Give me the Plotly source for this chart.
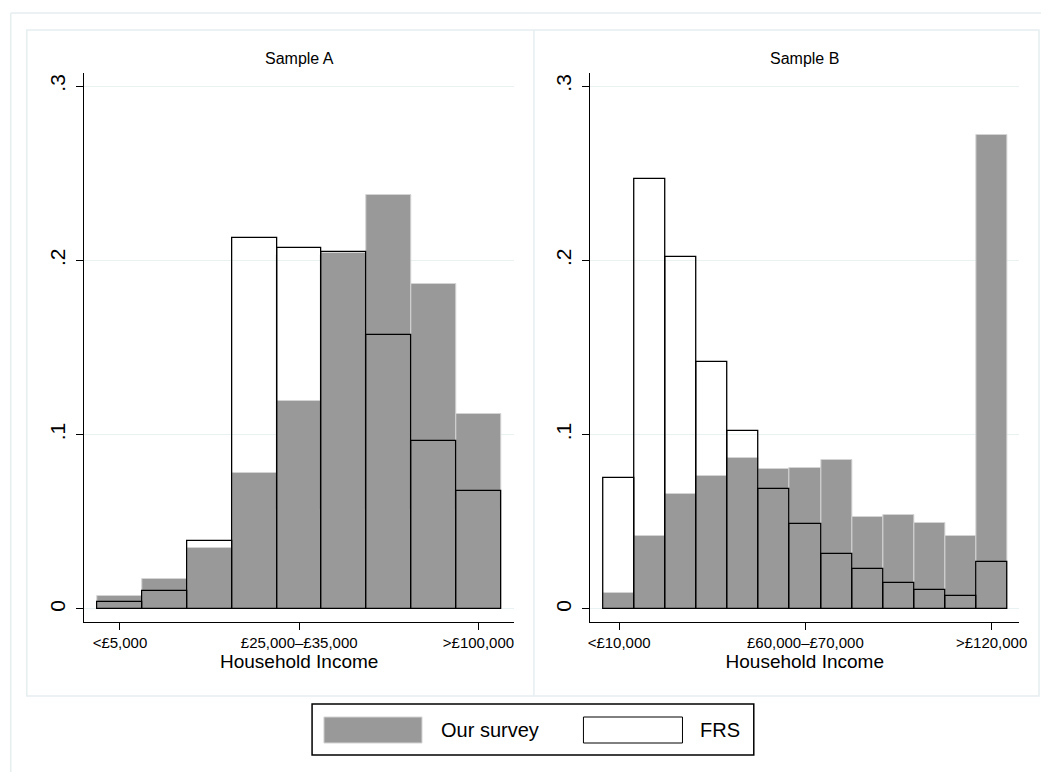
import plotly.graph_objects as go

# ---------------- data ----------------
bins_a = [1, 2, 3, 4, 5, 6, 7, 8, 9]
survey_a = [0.0074, 0.0172, 0.0350, 0.0783, 0.1195, 0.2043, 0.2374, 0.1863, 0.1118]
frs_a = [0.0042, 0.0102, 0.0390, 0.2126, 0.2069, 0.2050, 0.1570, 0.0961, 0.0679]
tickpos_a = [1, 5, 9]
ticklab_a = ["<£5,000", "£25,000–£35,000", ">£100,000"]

bins_b = [1, 2, 3, 4, 5, 6, 7, 8, 9, 10, 11, 12, 13]
survey_b = [0.0091, 0.0416, 0.0660, 0.0762, 0.0866, 0.0802, 0.0808, 0.0855,
            0.0526, 0.0537, 0.0492, 0.0416, 0.2722]
frs_b = [0.0749, 0.2466, 0.2020, 0.1417, 0.1021, 0.0687, 0.0486, 0.0314,
         0.0231, 0.0151, 0.0108, 0.0076, 0.0272]
tickpos_b = [1, 7, 13]
ticklab_b = ["<£10,000", "£60,000–£70,000", ">£120,000"]

ytickvals = [0, 0.1, 0.2, 0.3]
yticktext = ["0", ".1", ".2", ".3"]

panel_titles = ["Sample A", "Sample B"]
x_title = "Household Income"
series_names = ["Our survey", "FRS"]

# ---------------- styling ----------------
OFF = 8  # page body margin
W, H = 1049 - OFF, 772 - OFF
FONT = "Liberation Sans, Arial, Helvetica, sans-serif"
GREY = "#999999"
GREY_EDGE = "#d4d4d4"
GRID = "#eaf1f3"
FRAME = "#e6eef0"


def px(x):
    return (x - OFF) / W


def py(y):
    return 1 - (y - OFF) / H


fig = go.Figure()

for xa, ya, bins, surv, frs in [("x", "y", bins_a, survey_a, frs_a),
                                ("x2", "y2", bins_b, survey_b, frs_b)]:
    fig.add_trace(go.Bar(x=bins, y=surv, width=1, xaxis=xa, yaxis=ya,
                         name=series_names[0], showlegend=False,
                         marker=dict(color=GREY, line=dict(color=GREY_EDGE, width=1))))
    fig.add_trace(go.Bar(x=bins, y=frs, width=1, xaxis=xa, yaxis=ya,
                         name=series_names[1], showlegend=False,
                         marker=dict(color="rgba(0,0,0,0)", line=dict(color="black", width=1.3))))

yrange = [-0.0073, 0.3075]
ydom = [py(621.7), py(73)]

common_x = dict(showline=True, linecolor="black", linewidth=1, ticks="outside",
                ticklen=7, tickcolor="black", tickwidth=1, showgrid=False,
                zeroline=False, tickfont=dict(size=15, color="black"),
                title=dict(text=x_title, font=dict(size=19, color="black"), standoff=3))
common_y = dict(showline=True, linecolor="black", linewidth=1, ticks="outside",
                ticklen=7, tickcolor="black", tickwidth=1, showgrid=True,
                gridcolor=GRID, gridwidth=1, zeroline=False, range=yrange,
                tickvals=ytickvals, ticktext=yticktext, tickangle=-90,
                ticklabelstandoff=3,
                tickfont=dict(size=21, color="black"))

fig.update_layout(
    width=W, height=H,
    margin=dict(l=0, r=0, t=0, b=0),
    paper_bgcolor="white", plot_bgcolor="white",
    barmode="overlay", bargap=0,
    font=dict(family=FONT, color="black"),
    xaxis=dict(domain=[px(83), px(517)], range=[0.204, 9.796], anchor="y",
               tickvals=tickpos_a, ticktext=ticklab_a, **common_x),
    yaxis=dict(domain=ydom, anchor="x", **common_y),
    xaxis2=dict(domain=[px(594), px(1027)], range=[0.074, 13.89], anchor="y2",
                tickvals=tickpos_b, ticktext=ticklab_b, **common_x),
    yaxis2=dict(domain=ydom, anchor="x2", **common_y),
)

shapes = []
# outer frame (left and top edges visible)
shapes.append(dict(type="line", xref="paper", yref="paper", x0=px(8.8), x1=px(8.8),
                   y0=py(13), y1=0, line=dict(color=FRAME, width=1.5)))
shapes.append(dict(type="line", xref="paper", yref="paper", x0=px(8.8), x1=1,
                   y0=py(13), y1=py(13), line=dict(color=FRAME, width=1.5)))
# panel frames
shapes.append(dict(type="rect", xref="paper", yref="paper", x0=px(25), x1=px(1047),
                   y0=py(696), y1=py(30), line=dict(color=FRAME, width=1.5)))
shapes.append(dict(type="line", xref="paper", yref="paper", x0=px(537), x1=px(537),
                   y0=py(696), y1=py(30), line=dict(color=FRAME, width=1.5)))
# legend box
shapes.append(dict(type="rect", xref="paper", yref="paper", x0=px(313), x1=px(759),
                   y0=py(755), y1=py(704), line=dict(color="black", width=1.5),
                   fillcolor="white"))
shapes.append(dict(type="rect", xref="paper", yref="paper", x0=px(325), x1=px(424),
                   y0=py(743), y1=py(717), line=dict(color=GREY_EDGE, width=1),
                   fillcolor=GREY))
shapes.append(dict(type="rect", xref="paper", yref="paper", x0=px(587), x1=px(687),
                   y0=py(743), y1=py(717), line=dict(color="black", width=1),
                   fillcolor="white"))
fig.update_layout(shapes=shapes)

annotations = [
    dict(text=panel_titles[0], x=px(300), y=py(59), xref="paper", yref="paper",
         showarrow=False, xanchor="center", yanchor="middle", font=dict(size=16)),
    dict(text=panel_titles[1], x=px(810.5), y=py(59), xref="paper", yref="paper",
         showarrow=False, xanchor="center", yanchor="middle", font=dict(size=16)),
    dict(text=series_names[0], x=px(441), y=py(730), xref="paper", yref="paper",
         showarrow=False, xanchor="left", yanchor="middle", font=dict(size=20)),
    dict(text=series_names[1], x=px(703), y=py(730), xref="paper", yref="paper",
         showarrow=False, xanchor="left", yanchor="middle", font=dict(size=20)),
]
fig.update_layout(annotations=annotations)

fig.write_html("out.html")
